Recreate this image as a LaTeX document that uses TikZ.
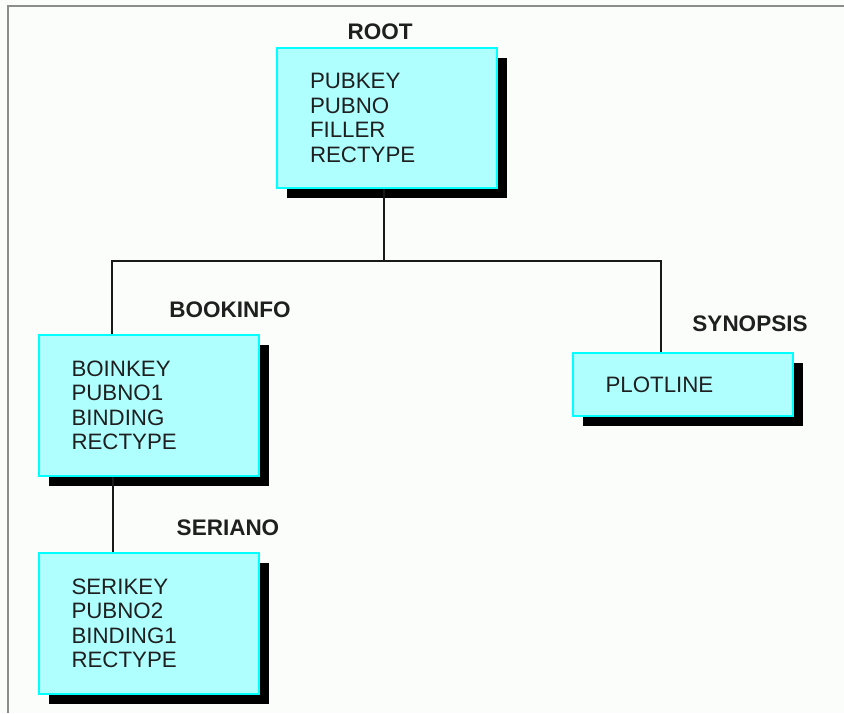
\documentclass[tikz,border=0pt]{standalone}
\usepackage{fontspec}
\setmainfont{Liberation Sans}
\usetikzlibrary{shadows}
\definecolor{boxfill}{HTML}{B0FFFF}
\definecolor{boxline}{HTML}{00FFFF}
\definecolor{framegray}{HTML}{8C8C8C}
\definecolor{pagebg}{HTML}{FBFDFB}
\begin{document}
\begin{tikzpicture}[x=1pt,y=1pt,
  recbox/.style={draw=boxline, line width=2pt, fill=boxfill, minimum width=220pt,
    text width=154pt, inner xsep=33pt, inner ysep=0pt, align=left,
    font=\fontsize{22.3}{24.4}\selectfont, text=black!88,
    drop shadow={shadow xshift=10pt, shadow yshift=-10pt, fill=black, opacity=1}},
  seglabel/.style={font=\bfseries\fontsize{22.5}{24}\selectfont, text=black!88, inner sep=0pt},
  link/.style={draw=black!90, line width=1.5pt},
  framestyle/.style={draw=framegray, line width=2pt}]
\fill[pagebg] (0,0) rectangle (844,-713);
\useasboundingbox (0,0) rectangle (844,-713);
\coordinate (ftl) at (7.5,-5.5);
\coordinate (ftr) at (844,-5.5);
\coordinate (fbl) at (7.5,-713);
\draw[framestyle] (ftr) -- (ftl) -- (fbl);

\node[recbox, minimum height=140pt] (root) at (387,-118) {PUBKEY\\PUBNO\\FILLER\\RECTYPE};
\node[recbox, minimum height=141pt] (book) at (148.5,-405.5) {BOINKEY\\PUBNO1\\BINDING\\RECTYPE};
\node[recbox, minimum height=141pt] (seri) at (148.5,-623.5) {SERIKEY\\PUBNO2\\BINDING1\\RECTYPE};
\node[recbox, minimum height=63pt] (syn) at (682.5,-384.5) {PLOTLINE};

\node[seglabel] (lroot) at (380,-32) {ROOT};
\node[seglabel] (lbook) at (230,-310) {BOOKINFO};
\node[seglabel] (lseri) at (228,-528) {SERIANO};
\node[seglabel] (lsyn) at (750,-324) {SYNOPSIS};

\coordinate (j) at ([xshift=-3pt,yshift=-72pt]root.south);
\draw[link] ([xshift=-3pt]root.south) -- (j);
\draw[link] ([xshift=-36.5pt]book.north) |- (j);
\draw[link] (j) -| ([xshift=-21.5pt]syn.north);
\draw[link] ([xshift=-35.5pt]book.south) -- ([xshift=-35.5pt]seri.north);
\end{tikzpicture}
\end{document}
